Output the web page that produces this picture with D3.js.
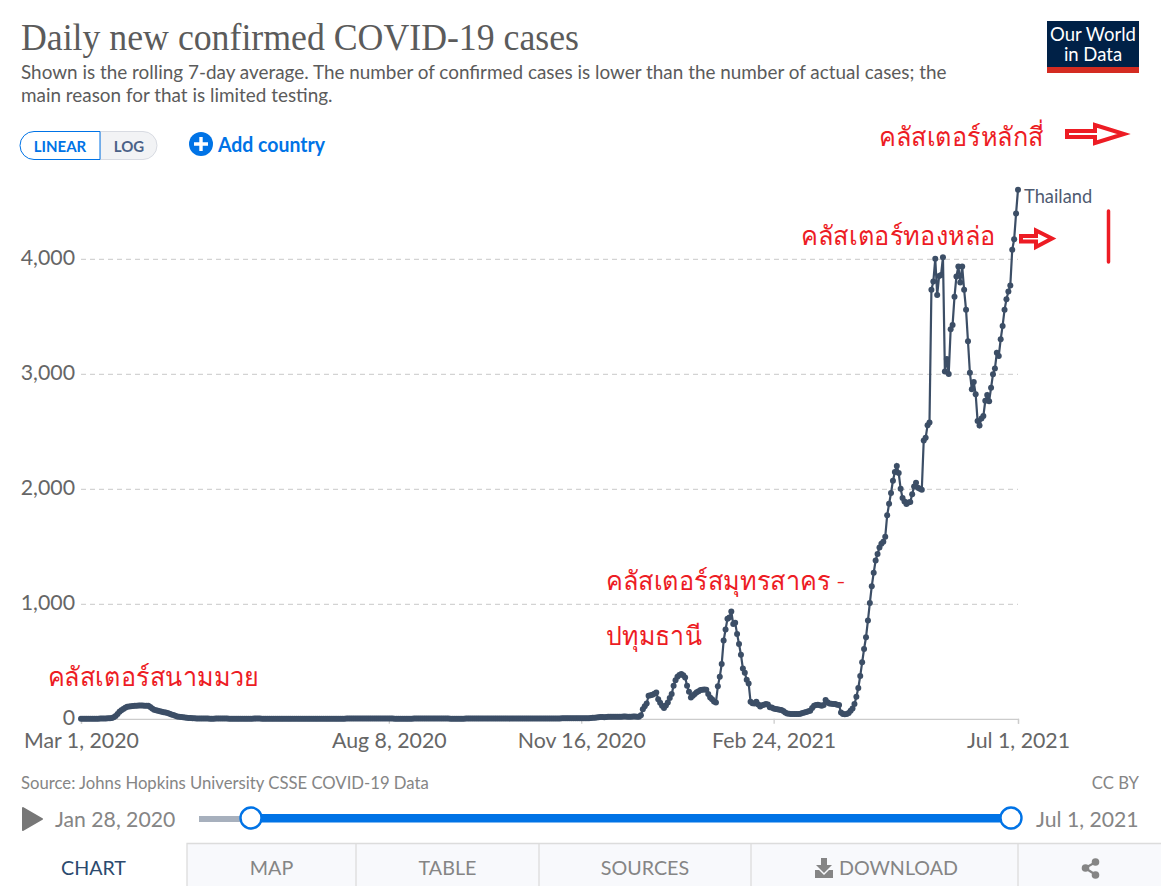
<!DOCTYPE html>
<html>
<head>
<meta charset="utf-8">
<title>Daily new confirmed COVID-19 cases</title>
<script src="https://cdn.jsdelivr.net/npm/d3@7"></script>
<style>
html,body{margin:0;padding:0;background:#fff;overflow:hidden}
svg{display:block}
text{font-family:Lato,"Noto Sans",sans-serif}
</style>
</head>
<body>
<div id="chart"></div>
<script>
// daily values, one per day from Mar 1, 2020 to Jul 1, 2021
var startDate=new Date(2020,2,1);
var endDate=new Date(2021,6,1);
var newCases=[
0,0,0,1,1,1,1,1,1,1,
2,2,3,3,4,5,8,14,25,42,
61,74,85,96,105,108,110,112,113,113,
115,116,115,114,113,113,102,90,78,74,
70,66,62,58,54,50,44,38,32,26,
20,17,15,13,11,9,8,7,5,4,
3,3,2,2,2,2,2,1,1,1,
2,2,2,3,3,2,2,1,1,1,
1,1,1,1,1,1,1,1,1,1,
2,2,2,2,1,1,1,1,1,1,
1,1,1,1,1,1,1,1,1,1,
1,1,1,1,1,1,1,1,1,1,
1,1,1,1,1,1,1,1,1,1,
1,1,1,1,1,1,1,1,2,2,
2,2,2,2,2,2,2,2,2,2,
2,2,2,2,2,2,2,2,2,2,
2,2,2,1,1,1,1,1,1,1,
1,1,1,2,2,2,2,2,2,2,
2,2,2,2,2,2,2,2,2,2,
2,2,1,1,1,1,1,1,1,1,
2,2,2,2,2,2,2,2,2,2,
2,2,3,3,3,3,3,2,2,2,
2,2,2,2,2,2,2,2,2,2,
2,2,2,2,2,2,2,2,3,3,
3,3,3,3,3,3,3,3,3,3,
4,4,4,4,4,4,4,4,4,4,
4,4,4,5,5,8,9,10,11,13,
16,15,14,16,17,18,18,17,17,18,
18,18,19,19,18,18,18,19,19,18,
18,30,84,110,134,200,205,209,218,229,
171,140,113,93,115,142,180,215,288,335,
366,380,389,378,360,288,235,186,200,215,
230,240,250,252,255,253,215,186,170,150,
142,282,366,476,680,776,869,880,932,825,
835,738,651,558,438,400,340,308,148,135,
133,148,125,107,118,122,128,125,100,99,
90,85,84,78,76,68,55,46,44,41,
41,41,42,41,44,50,55,60,66,70,
95,113,120,122,118,113,120,163,145,133,
130,128,128,122,119,55,41,40,41,50,
70,90,128,192,268,372,491,607,709,854,
1008,1153,1270,1377,1434,1490,1522,1540,1583,1769,
1869,1964,2070,2146,2198,2137,2000,1921,1890,1868,
1880,1885,1952,2020,2052,2010,2000,1992,2420,2443,
2553,2576,3730,3803,4000,3686,3850,3860,4014,3021,
3128,2998,3387,3425,3671,3846,3933,3795,3933,3730,
3556,3283,3009,2865,2928,2823,2590,2550,2611,2632,
2765,2815,2762,2878,2997,3046,3183,3155,3300,3416,
3556,3648,3715,3767,4078,4170,4395,4601
];
var yTicks=[0,1000,2000,3000,4000];
var xTicks=[new Date(2020,2,1),new Date(2020,7,8),new Date(2020,10,16),new Date(2021,1,24),new Date(2021,6,1)];
var tabLabels=["CHART","MAP","TABLE","SOURCES","DOWNLOAD"];
var tabEdges=[0,187,356,539,751,1018,1161];
var clusterNotes=["คลัสเตอร์หลักสี่","คลัสเตอร์ทองหล่อ","คลัสเตอร์สมุทรสาคร -","ปทุมธานี","คลัสเตอร์สนามมวย"];
var clusterX=[879,801,606,606,48];
var clusterY=[146,245,590,645,686];
var clusterW=[165,195,239,96,211];

var width=1161,height=886,
	lineColor="#3c4e66",red="#ed1c24",blue="#0073e6",grey="#858585";

var svg=d3.select("#chart").append("svg")
	.attr("width",width)
	.attr("height",height);

var data=newCases.map(function(d,i){ return {date:d3.timeDay.offset(startDate,i),value:d}; });

var x=d3.scaleTime().domain([startDate,endDate]).range([81,1018]);
var y=d3.scaleLinear().domain([0,4000]).range([718.8,258.8]);

// header
svg.append("text").attr("x",21).attr("y",50)
	.style("font-family","'Liberation Serif',serif").style("font-size","37px").attr("fill","#5b5b5b")
	.attr("textLength",558).attr("lengthAdjust","spacingAndGlyphs")
	.text("Daily new confirmed COVID-19 cases");
svg.append("text").attr("x",21).attr("y",79).style("font-size","18.9px").attr("fill","#5b5b5b")
	.text("Shown is the rolling 7-day average. The number of confirmed cases is lower than the number of actual cases; the");
svg.append("text").attr("x",21).attr("y",102).style("font-size","18.9px").attr("fill","#5b5b5b")
	.text("main reason for that is limited testing.");

// logo
var logo=svg.append("g");
logo.append("rect").attr("x",1047).attr("y",21).attr("width",92).attr("height",52).attr("fill","#002147");
logo.append("rect").attr("x",1047).attr("y",67).attr("width",92).attr("height",6).attr("fill","#d42b21");
logo.append("text").attr("x",1093).attr("y",41).attr("text-anchor","middle").attr("fill","#fff").style("font-size","18.5px").text("Our World");
logo.append("text").attr("x",1093).attr("y",61).attr("text-anchor","middle").attr("fill","#fff").style("font-size","18.5px").text("in Data");

// linear / log buttons
svg.append("path").attr("d","M100,131.5H143a14,14 0 0 1 0,28H100Z").attr("fill","#f2f3f5").attr("stroke","#d8dbe2");
svg.append("path").attr("d","M100,131.5H34a14,14 0 0 0 0,28H100Z").attr("fill","#fff").attr("stroke",blue);
svg.append("text").attr("x",60).attr("y",152).attr("text-anchor","middle").attr("fill",blue).style("font-size","15px").style("font-weight",700).text("LINEAR");
svg.append("text").attr("x",129).attr("y",152).attr("text-anchor","middle").attr("fill","#4a6187").style("font-size","15px").style("font-weight",700).text("LOG");
svg.append("circle").attr("cx",201).attr("cy",144).attr("r",12).attr("fill",blue);
svg.append("path").attr("d","M201,137V151M194,144H208").attr("stroke","#fff").attr("stroke-width",3.4);
svg.append("text").attr("x",218).attr("y",152).attr("fill",blue).style("font-size","21.5px").style("font-weight",700)
	.attr("textLength",107).attr("lengthAdjust","spacingAndGlyphs").text("Add country");

// axes
var yAxis=d3.axisLeft(y).tickValues(yTicks).tickSize(0).tickPadding(6).tickFormat(d3.format(","));
var gy=svg.append("g").attr("transform","translate(81,0)").call(yAxis);
gy.select(".domain").remove();
gy.selectAll("text").style("font-size","21.3px").style("font-family","Lato").attr("fill","#666").attr("y",-1.5);
gy.selectAll(".tick").filter(function(d){ return d>0; }).append("line")
	.attr("x1",0).attr("x2",x.range()[1]-x.range()[0])
	.attr("stroke","#d3d3d3").attr("stroke-width",1.3).attr("stroke-dasharray","5,4");

var xAxis=d3.axisBottom(x).tickValues(xTicks).tickSize(5).tickPadding(9).tickFormat(d3.timeFormat("%b %-d, %Y"));
var gx=svg.append("g").attr("transform","translate(0,718.8)").call(xAxis);
gx.select(".domain").attr("stroke","#ccc").attr("stroke-width",1.3);
gx.selectAll(".tick line").attr("stroke","#ccc").attr("stroke-width",1.3);
gx.selectAll("text").style("font-size","21.3px").style("font-family","Lato").attr("fill","#666");

// series
var line=d3.line()
	.x(function(d){ return x(d.date); })
	.y(function(d){ return y(d.value); });
svg.append("path").datum(data).attr("d",line)
	.attr("fill","none").attr("stroke",lineColor).attr("stroke-width",2.2);
svg.selectAll(".dot").data(data).enter().append("circle")
	.attr("class","dot")
	.attr("cx",function(d){ return x(d.date); })
	.attr("cy",function(d){ return y(d.value); })
	.attr("r",3)
	.attr("fill",lineColor);
svg.append("text").attr("x",1024).attr("y",203).attr("fill","#4e5a70").style("font-size","18.3px").text("Thailand");

// hand drawn red notes
clusterNotes.forEach(function(t,i){
	svg.append("text").attr("x",clusterX[i]).attr("y",clusterY[i])
		.attr("fill",red).style("font-family","'Noto Sans','DejaVu Sans',sans-serif").style("font-size","26px").style("font-weight",300)
		.attr("textLength",clusterW[i]).attr("lengthAdjust","spacingAndGlyphs").text(t);
});
svg.append("path").attr("d","M1067,131H1095V125L1124,134L1095,143V137H1067Z")
	.attr("fill","#fff").attr("stroke",red).attr("stroke-width",4);
svg.append("path").attr("d","M1021,236H1036V230.5L1052,238.5L1036,247V241.5H1021Z")
	.attr("fill","#fff").attr("stroke",red).attr("stroke-width",4);
svg.append("line").attr("x1",1108.5).attr("x2",1108.5).attr("y1",211).attr("y2",262)
	.attr("stroke",red).attr("stroke-width",3.5).attr("stroke-linecap","round");

// footer
svg.append("text").attr("x",21).attr("y",789).attr("fill",grey).style("font-size","16.7px").text("Source: Johns Hopkins University CSSE COVID-19 Data");
svg.append("text").attr("x",1139).attr("y",789).attr("text-anchor","end").attr("fill",grey).style("font-size","16.7px").text("CC BY");

// timeline
svg.append("path").attr("d","M23,808L42,819L23,830Z").attr("fill","#777").attr("stroke","#777").attr("stroke-width",2).attr("stroke-linejoin","round");
svg.append("text").attr("x",55).attr("y",827).attr("fill",grey).style("font-size","21.2px").text("Jan 28, 2020");
svg.append("text").attr("x",1036).attr("y",827).attr("fill",grey).style("font-size","21.2px").text("Jul 1, 2021");
svg.append("rect").attr("x",199).attr("y",816).attr("width",52).attr("height",6).attr("fill","#a7b0bd");
svg.append("rect").attr("x",251).attr("y",814).attr("width",760).attr("height",8.5).attr("fill",blue);
[251,1011].forEach(function(cx){
	svg.append("circle").attr("cx",cx).attr("cy",819).attr("r",11).attr("fill","#000").attr("opacity",0.15);
	svg.append("circle").attr("cx",cx).attr("cy",818).attr("r",10.5).attr("fill","#fff").attr("stroke",blue).attr("stroke-width",2.4);
});

// tabs
svg.append("rect").attr("x",187).attr("y",843).attr("width",974).attr("height",43).attr("fill","#f8f9fc");
svg.append("path").attr("d","M187,886V843.5H1161").attr("fill","none").attr("stroke","#dcdcdc").attr("stroke-width",1.3);
tabEdges.slice(2,6).forEach(function(e){
	svg.append("line").attr("x1",e).attr("x2",e).attr("y1",843).attr("y2",886).attr("stroke","#dcdcdc").attr("stroke-width",1.3);
});
tabLabels.forEach(function(t,i){
	var cx=(tabEdges[i]+tabEdges[i+1])/2;
	if(i==4) cx=898.5;
	svg.append("text").attr("x",cx).attr("y",875).attr("text-anchor","middle")
		.attr("fill",i==0?"#2c4a6e":grey).style("font-size","19.7px").text(t);
});
// download icon
svg.append("path").attr("d","M821,858H827V865H832L824,873L816,865H821ZM815,870H819L824,875L829,870H833V878H815Z").attr("fill",grey);
// share icon
svg.append("path").attr("d","M1096,862L1085,868L1096,875").attr("stroke",grey).attr("stroke-width",2.2).attr("fill","none");
[[1095.5,862],[1085.5,868],[1095.5,875]].forEach(function(p){
	svg.append("circle").attr("cx",p[0]).attr("cy",p[1]).attr("r",3.8).attr("fill",grey);
});
</script>
</body>
</html>
